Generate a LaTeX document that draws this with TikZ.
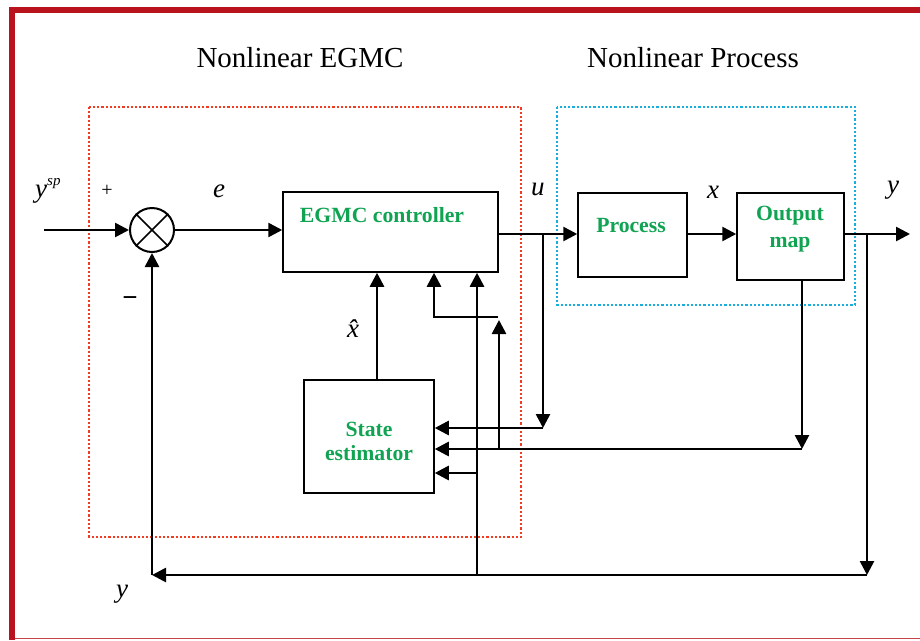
\documentclass[tikz,border=0pt]{standalone}
\usepackage{fontspec}
\setmainfont{Liberation Serif}
\usetikzlibrary{arrows.meta,calc}
\definecolor{frameRed}{RGB}{185,20,30}
\definecolor{dotRed}{RGB}{240,60,35}
\definecolor{dotBlue}{RGB}{25,175,220}
\definecolor{txtGreen}{RGB}{16,163,82}
\begin{document}
\begin{tikzpicture}[x=1pt,y=-1pt,
 arr/.style={line width=2.6pt,-{Triangle[length=14pt,width=14pt]}},
 blk/.style={draw,line width=1.5pt,inner sep=0pt},
 gtxt/.style={text=txtGreen,font=\fontsize{21.7}{24}\selectfont\bfseries,align=center,inner sep=0pt},
 ttl/.style={font=\fontsize{29}{32}\selectfont,inner sep=0pt},
 lbl/.style={font=\fontsize{27}{30}\selectfont\itshape,inner sep=0pt,anchor=base west},
 grp/.style={line width=2.8pt,dash pattern=on 2.2pt off 2pt}]
\useasboundingbox (0,0) rectangle (920,640);
% frame
\fill[frameRed] (9,7) rectangle (15,640);
\fill[frameRed] (9,7) rectangle (920,12.5);
\draw[frameRed!80,line width=1.5pt] (15,638.5) -- (920,638.5);
% groups
\draw[grp,dotRed] (89,107) rectangle (521,537);
\draw[grp,dotBlue] (557,107) rectangle (855,305);
\node[ttl] (t1) at (300,58) {Nonlinear EGMC};
\node[ttl] (t2) at (693,58) {Nonlinear Process};
% blocks
\node[blk,minimum width=215pt,minimum height=80pt] (ctrl) at (390.5,232) {};
\node[gtxt] (ctrlT) at (382,215) {EGMC controller};
\node[blk,minimum width=109pt,minimum height=84pt] (proc) at (632.5,235) {};
\node[gtxt] (procT) at (631,225) {Process};
\node[blk,minimum width=107pt,minimum height=87pt] (omap) at (790.5,236.5) {};
\node[gtxt] (omapT) at (790,229) {Output\\[3pt]map};
\node[blk,minimum width=130pt,minimum height=113pt] (est) at (369,436.5) {};
\node[gtxt] (estT) at (369,441) {State\\estimator};
% summing junction
\node[draw,circle,line width=2pt,minimum size=44pt,inner sep=0pt] (sum) at (152,230) {};
\draw[line width=1.7pt] (sum.north west) -- (sum.south east) (sum.north east) -- (sum.south west);
% coordinates
\coordinate (in) at (44,230);
\coordinate (uB) at (543,234);
\coordinate (uD) at (543,428);
\coordinate (mT) at (802,280);
\coordinate (mD) at (802,449);
\coordinate (yB) at (867,234);
\coordinate (yD) at (867,575);
\coordinate (yOut) at (910,234);
\coordinate (fbL) at (152,575);
\coordinate (fbM) at (477,575);
\coordinate (fbE) at (477,473);
\coordinate (sB) at (499,449);
\coordinate (sT) at (499,320);
\coordinate (hR) at (498,317);
\coordinate (hL) at (434,317);
\coordinate (xh) at (377,380);
% connectors
\draw[arr] (in) -- (sum.west);
\draw[arr] (sum.east) -- (sum.east -| ctrl.west);
\draw[arr] (ctrl.east |- uB) -- (proc.west |- uB);
\draw[arr] (proc.east |- uB) -- (omap.west |- uB);
\draw[arr] (omap.east |- uB) -- (yOut);
\draw[arr] (uB) -- (uD);
\draw[arr] (uD) -- (est.east |- uD);
\draw[arr] (mT) -- (mD);
\draw[arr] (mD) -- (est.east |- mD);
\draw[arr] (sB) -- (sT);
\draw[line width=1.6pt] (hR) -- ([xshift=-1.3pt]hL);
\draw[arr] (hL) -- (hL |- ctrl.south);
\draw[arr] (yB) -- (yD);
\draw[arr] (yD) -- (fbL);
\draw[arr] (fbL) -- (sum.south);
\draw[arr] (fbM) -- (fbM |- ctrl.south);
\draw[arr] (fbE) -- (est.east |- fbE);
\draw[arr] (xh) -- (xh |- ctrl.south);
% labels
\node[lbl] (ysp) at (35,197) {y\raisebox{12pt}{\fontsize{15}{16}\selectfont sp}};
\node[font=\fontsize{20}{22}\selectfont,inner sep=0pt] (plus) at (107,191) {+};
\node[font=\fontsize{27}{30}\selectfont\bfseries,inner sep=0pt] (minus) at (130,302) {−};
\node[lbl] (le) at (213,197) {e};
\node[lbl] (lu) at (531,195) {u};
\node[lbl] (lx) at (707,198) {x};
\node[lbl] (ly) at (887,193) {y};
\node[lbl] (lxh) at (347,337) {\^{x}};
\node[lbl] (lyb) at (116,597) {y};
\end{tikzpicture}
\end{document}
